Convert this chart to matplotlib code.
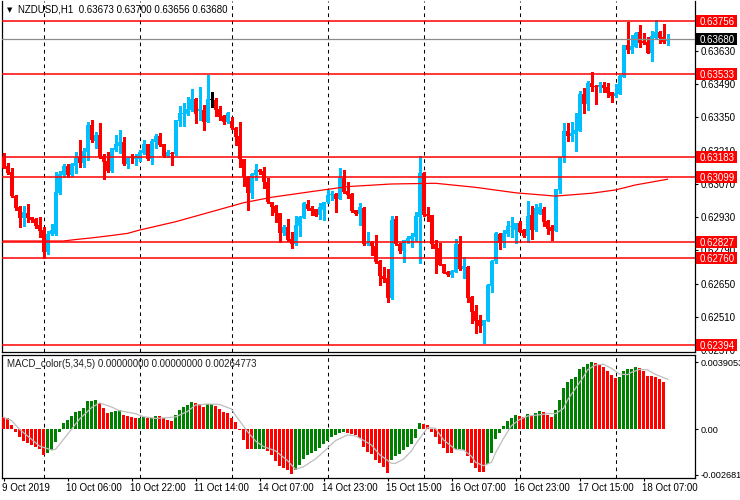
import matplotlib
matplotlib.use("Agg")
import matplotlib.pyplot as plt
import matplotlib.transforms as mtransforms
from matplotlib.patches import Rectangle
import numpy as np

plt.rcParams['font.family'] = ['Liberation Sans', 'DejaVu Sans']

# ---------------- data ----------------
symbol_title = "NZDUSD,H1  0.63673 0.63700 0.63656 0.63680"
macd_title = "MACD_color(5,34,5) 0.00000000 0.00000000 0.00264773"

opens = [0.63185, 0.63146, 0.63120, 0.63019, 0.62973, 0.62926, 0.62949, 0.62931, 0.62923, 0.62897,
         0.62876, 0.62785, 0.62858, 0.62860, 0.63031, 0.63107, 0.63146, 0.63107, 0.63146, 0.63185,
         0.63160, 0.63206, 0.63318, 0.63252, 0.63276, 0.63188, 0.63167, 0.63125, 0.63215, 0.63232,
         0.63247, 0.63154, 0.63183, 0.63174, 0.63175, 0.63201, 0.63238, 0.63175, 0.63246, 0.63272,
         0.63238, 0.63189, 0.63202, 0.63195, 0.63335, 0.63365, 0.63364, 0.63381, 0.63428, 0.63377,
         0.63382, 0.63332, 0.63424, 0.63424, 0.63386, 0.63356, 0.63332, 0.63335, 0.63307, 0.63272,
         0.63174, 0.63101, 0.63031, 0.63107, 0.63128, 0.63125, 0.63077, 0.62993, 0.62977, 0.62946,
         0.62862, 0.62890, 0.62838, 0.62817, 0.62894, 0.62928, 0.62985, 0.62968, 0.62964, 0.62939,
         0.62960, 0.62993, 0.63024, 0.63027, 0.63007, 0.63094, 0.63041, 0.63027, 0.62960, 0.62944,
         0.62970, 0.62816, 0.62826, 0.62810, 0.62746, 0.62683, 0.62673, 0.62589, 0.62923, 0.62817,
         0.62788, 0.62829, 0.62838, 0.62848, 0.62932, 0.63117, 0.62944, 0.62939, 0.62817, 0.62799,
         0.62733, 0.62701, 0.62687, 0.62701, 0.62817, 0.62711, 0.62722, 0.62595, 0.62535, 0.62497,
         0.62472, 0.62494, 0.62640, 0.62746, 0.62859, 0.62823, 0.62859, 0.62887, 0.62876, 0.62907,
         0.62876, 0.62851, 0.62939, 0.62876, 0.62944, 0.62964, 0.62915, 0.62890, 0.62873, 0.63045,
         0.63183, 0.63294, 0.63272, 0.63280, 0.63294, 0.63449, 0.63406, 0.63497, 0.63483, 0.63477,
         0.63487, 0.63480, 0.63457, 0.63441, 0.63449, 0.63522, 0.63655, 0.63634, 0.63648, 0.63711,
         0.63672, 0.63669, 0.63623, 0.63683, 0.63711, 0.63690, 0.63673]
highs = [0.63201, 0.63158, 0.63137, 0.63022, 0.62977, 0.62977, 0.62987, 0.62933, 0.62925, 0.62931,
         0.62890, 0.62872, 0.62900, 0.63119, 0.63125, 0.63153, 0.63153, 0.63160, 0.63206, 0.63255,
         0.63220, 0.63330, 0.63339, 0.63288, 0.63326, 0.63195, 0.63206, 0.63223, 0.63276, 0.63297,
         0.63267, 0.63183, 0.63195, 0.63196, 0.63215, 0.63255, 0.63240, 0.63259, 0.63279, 0.63286,
         0.63240, 0.63213, 0.63206, 0.63341, 0.63400, 0.63410, 0.63438, 0.63470, 0.63431, 0.63478,
         0.63403, 0.63529, 0.63456, 0.63431, 0.63400, 0.63360, 0.63372, 0.63353, 0.63310, 0.63330,
         0.63176, 0.63105, 0.63115, 0.63153, 0.63132, 0.63140, 0.63097, 0.62996, 0.62980, 0.62948,
         0.62897, 0.62923, 0.62867, 0.62937, 0.62935, 0.62994, 0.63003, 0.62979, 0.62966, 0.62989,
         0.62995, 0.63045, 0.63041, 0.63030, 0.63139, 0.63129, 0.63080, 0.63030, 0.62962, 0.62990,
         0.62972, 0.62867, 0.62830, 0.62855, 0.62748, 0.62722, 0.62712, 0.62937, 0.62937, 0.62820,
         0.62836, 0.62851, 0.62862, 0.62953, 0.63188, 0.63122, 0.62974, 0.62941, 0.62834, 0.62820,
         0.62735, 0.62703, 0.62707, 0.62837, 0.62851, 0.62761, 0.62724, 0.62597, 0.62561, 0.62518,
         0.62499, 0.62647, 0.62748, 0.62867, 0.62865, 0.62876, 0.62915, 0.62930, 0.62906, 0.62915,
         0.62880, 0.62999, 0.62977, 0.62986, 0.62990, 0.62974, 0.62918, 0.62897, 0.63051, 0.63185,
         0.63326, 0.63326, 0.63332, 0.63370, 0.63463, 0.63473, 0.63505, 0.63543, 0.63485, 0.63501,
         0.63501, 0.63494, 0.63459, 0.63491, 0.63528, 0.63657, 0.63753, 0.63697, 0.63711, 0.63739,
         0.63704, 0.63690, 0.63716, 0.63761, 0.63713, 0.63744, 0.63700]
lows = [0.63138, 0.63112, 0.63015, 0.62960, 0.62890, 0.62894, 0.62911, 0.62911, 0.62883, 0.62848,
        0.62760, 0.62775, 0.62856, 0.62855, 0.63027, 0.63101, 0.63100, 0.63105, 0.63118, 0.63143,
        0.63143, 0.63171, 0.63246, 0.63223, 0.63180, 0.63090, 0.63119, 0.63119, 0.63209, 0.63199,
        0.63152, 0.63136, 0.63157, 0.63150, 0.63165, 0.63195, 0.63171, 0.63153, 0.63220, 0.63232,
        0.63185, 0.63185, 0.63150, 0.63193, 0.63314, 0.63314, 0.63361, 0.63377, 0.63326, 0.63340,
        0.63297, 0.63330, 0.63395, 0.63358, 0.63340, 0.63321, 0.63328, 0.63303, 0.63234, 0.63140,
        0.63063, 0.62960, 0.63010, 0.63087, 0.63112, 0.63054, 0.62990, 0.62939, 0.62909, 0.62827,
        0.62855, 0.62832, 0.62799, 0.62815, 0.62852, 0.62927, 0.62962, 0.62939, 0.62935, 0.62923,
        0.62918, 0.62990, 0.63003, 0.62953, 0.63005, 0.63033, 0.63010, 0.62953, 0.62940, 0.62897,
        0.62813, 0.62813, 0.62771, 0.62738, 0.62645, 0.62656, 0.62574, 0.62585, 0.62813, 0.62778,
        0.62743, 0.62820, 0.62806, 0.62831, 0.62739, 0.62937, 0.62915, 0.62799, 0.62697, 0.62727,
        0.62695, 0.62684, 0.62680, 0.62699, 0.62709, 0.62676, 0.62574, 0.62486, 0.62441, 0.62448,
        0.62399, 0.62493, 0.62617, 0.62736, 0.62795, 0.62806, 0.62851, 0.62846, 0.62823, 0.62867,
        0.62846, 0.62827, 0.62837, 0.62874, 0.62942, 0.62893, 0.62859, 0.62834, 0.62871, 0.63033,
        0.63164, 0.63252, 0.63252, 0.63210, 0.63292, 0.63368, 0.63382, 0.63463, 0.63407, 0.63459,
        0.63459, 0.63438, 0.63417, 0.63438, 0.63447, 0.63520, 0.63623, 0.63623, 0.63646, 0.63648,
        0.63659, 0.63620, 0.63589, 0.63681, 0.63662, 0.63665, 0.63656]
closes = [0.63139, 0.63117, 0.63019, 0.62970, 0.62926, 0.62953, 0.62928, 0.62918, 0.62894, 0.62873,
          0.62785, 0.62858, 0.62876, 0.63035, 0.63112, 0.63147, 0.63107, 0.63153, 0.63181, 0.63160,
          0.63210, 0.63318, 0.63255, 0.63276, 0.63182, 0.63164, 0.63125, 0.63220, 0.63237, 0.63248,
          0.63154, 0.63181, 0.63178, 0.63188, 0.63205, 0.63238, 0.63175, 0.63251, 0.63272, 0.63234,
          0.63189, 0.63203, 0.63196, 0.63339, 0.63368, 0.63369, 0.63386, 0.63428, 0.63364, 0.63386,
          0.63332, 0.63428, 0.63424, 0.63382, 0.63354, 0.63330, 0.63368, 0.63305, 0.63269, 0.63174,
          0.63101, 0.63031, 0.63112, 0.63128, 0.63119, 0.63077, 0.62993, 0.62975, 0.62946, 0.62862,
          0.62890, 0.62834, 0.62817, 0.62897, 0.62932, 0.62989, 0.62965, 0.62958, 0.62937, 0.62974,
          0.62993, 0.63024, 0.63027, 0.63007, 0.63094, 0.63035, 0.63022, 0.62956, 0.62942, 0.62974,
          0.62816, 0.62823, 0.62810, 0.62740, 0.62683, 0.62670, 0.62591, 0.62918, 0.62816, 0.62788,
          0.62834, 0.62841, 0.62851, 0.62935, 0.63117, 0.62939, 0.62937, 0.62817, 0.62796, 0.62729,
          0.62697, 0.62687, 0.62705, 0.62817, 0.62711, 0.62724, 0.62591, 0.62532, 0.62494, 0.62472,
          0.62497, 0.62645, 0.62746, 0.62865, 0.62823, 0.62865, 0.62893, 0.62893, 0.62904, 0.62869,
          0.62851, 0.62935, 0.62876, 0.62968, 0.62972, 0.62911, 0.62880, 0.62873, 0.63049, 0.63183,
          0.63294, 0.63272, 0.63284, 0.63297, 0.63449, 0.63406, 0.63497, 0.63480, 0.63477, 0.63487,
          0.63476, 0.63454, 0.63441, 0.63452, 0.63526, 0.63655, 0.63634, 0.63651, 0.63707, 0.63665,
          0.63662, 0.63623, 0.63693, 0.63711, 0.63683, 0.63669, 0.63680]

# moving average, read at sampled bars
ma_bars = [0, 15, 18, 22, 26, 31, 34, 43, 53, 60, 67, 77, 86, 97, 108, 118, 128, 138, 147, 153, 158, 166]
ma_vals = [0.62830, 0.62830, 0.62836, 0.62843, 0.62851, 0.62862, 0.62876, 0.62911, 0.62958, 0.62991,
           0.63014, 0.63038, 0.63059, 0.63070, 0.63073, 0.63056, 0.63033, 0.63019, 0.63031, 0.63045,
           0.63066, 0.63090]

level_lines = [0.63756, 0.63533, 0.63183, 0.63099, 0.62827, 0.62760, 0.62394]
current_price = 0.63680
price_ticks = [0.63630, 0.63490, 0.63350, 0.63210, 0.63070, 0.62930, 0.62790, 0.62650, 0.62510, 0.62370]

macd_hist = [0.00068, 0.00066, 0.00023, -0.00016, -0.00049, -0.00070, -0.00084, -0.00094, -0.00103, -0.00117,
             -0.00152, -0.00143, -0.00123, -0.00074, -0.00016, 0.00033, 0.00053, 0.00076, 0.00101, 0.00105,
             0.00121, 0.00164, 0.00166, 0.00170, 0.00150, 0.00121, 0.00092, 0.00101, 0.00107, 0.00111,
             0.00082, 0.00078, 0.00068, 0.00062, 0.00066, 0.00068, 0.00062, 0.00066, 0.00078, 0.00074,
             0.00062, 0.00055, 0.00049, 0.00082, 0.00111, 0.00127, 0.00141, 0.00156, 0.00150, 0.00144,
             0.00131, 0.00146, 0.00147, 0.00135, 0.00118, 0.00101, 0.00092, 0.00066, 0.00043, -0.00005,
             -0.00064, -0.00119, -0.00120, -0.00118, -0.00117, -0.00116, -0.00129, -0.00152, -0.00187, -0.00215,
             -0.00228, -0.00238, -0.00263, -0.00240, -0.00211, -0.00178, -0.00152, -0.00139, -0.00127, -0.00113,
             -0.00090, -0.00070, -0.00049, -0.00035, -0.00025, -0.00016, -0.00025, -0.00027, -0.00037, -0.00051,
             -0.00103, -0.00133, -0.00148, -0.00182, -0.00201, -0.00224, -0.00260, -0.00182, -0.00156, -0.00144,
             -0.00123, -0.00103, -0.00090, -0.00051, 0.00035, 0.00029, 0.00023, -0.00016, -0.00045, -0.00088,
             -0.00113, -0.00142, -0.00143, -0.00119, -0.00120, -0.00121, -0.00156, -0.00197, -0.00226, -0.00250,
             -0.00250, -0.00205, -0.00139, -0.00061, -0.00021, 0.00020, 0.00047, 0.00066, 0.00082, 0.00076,
             0.00068, 0.00088, 0.00078, 0.00094, 0.00105, 0.00100, 0.00084, 0.00070, 0.00111, 0.00170,
             0.00242, 0.00277, 0.00291, 0.00305, 0.00351, 0.00363, 0.00383, 0.00390, 0.00386, 0.00375,
             0.00363, 0.00340, 0.00316, 0.00301, 0.00302, 0.00340, 0.00351, 0.00352, 0.00363, 0.00357,
             0.00340, 0.00310, 0.00309, 0.00305, 0.00293, 0.00275]
macd_colors = ("rrrrrrrrrr" "rggggggggg" "ggggrrrggg" "rrrrggrggr" "rrrgggggrr"
               "rggrrrrrrr" "rrrgggrrrr" "rrrggggggg" "ggggggrrrr" "rrrrrrrggg"
               "gggggrrrrr" "rrrgggrrrr" "rggggggggr" "rgrggrrrgg" "ggggggggrr"
               "rrrrgggggr" "rrrrrr")

signal_bars = [0, 2, 4, 7, 9, 12, 13, 14, 17, 19, 22, 24, 27, 29, 33, 35, 38, 41, 43, 46, 48, 51, 54, 57,
               58, 61, 63, 65, 68, 71, 73, 75, 78, 80, 82, 83, 86, 88, 91, 92, 94, 97, 98, 100, 102, 103,
               105, 106, 108, 110, 113, 115, 117, 118, 120, 122, 123, 125, 127, 129, 131, 134, 136, 138,
               140, 141, 143, 145, 146, 148, 150, 152, 154, 156, 157, 159, 161, 163, 166]
signal_vals = [0.00068, 0.00050, -0.00002, -0.00060, -0.00100, -0.00123, -0.00119, -0.00090, -0.00002,
               0.00058, 0.00125, 0.00153, 0.00129, 0.00107, 0.00090, 0.00072, 0.00062, 0.00066, 0.00071,
               0.00103, 0.00140, 0.00146, 0.00144, 0.00117, 0.00080, -0.00015, -0.00070, -0.00103,
               -0.00128, -0.00185, -0.00236, -0.00221, -0.00175, -0.00135, -0.00090, -0.00068, -0.00035,
               -0.00040, -0.00080, -0.00094, -0.00150, -0.00201, -0.00201, -0.00176, -0.00128, -0.00090,
               -0.00025, 0.00008, 0.00004, -0.00064, -0.00120, -0.00123, -0.00160, -0.00195, -0.00215,
               -0.00195, -0.00140, -0.00055, 0.00020, 0.00055, 0.00076, 0.00083, 0.00090, 0.00090,
               0.00120, 0.00170, 0.00238, 0.00305, 0.00346, 0.00375, 0.00379, 0.00355, 0.00322, 0.00318,
               0.00332, 0.00349, 0.00346, 0.00320, 0.00291]
macd_ticks = [0.0039053, 0.0, -0.002681]
macd_tick_labels = ["0.0039053", "0.00", "-0.002681"]

day_start_bars = [10, 34, 57, 81, 105, 129, 153]
time_tick_bars = [0, 16, 32, 48, 64, 80, 96, 112, 128, 144, 160]
time_tick_labels = ["9 Oct 2019", "10 Oct 06:00", "10 Oct 22:00", "11 Oct 14:00", "14 Oct 07:00",
                    "14 Oct 23:00", "15 Oct 15:00", "16 Oct 07:00", "16 Oct 23:00", "17 Oct 15:00",
                    "18 Oct 07:00"]

# ---------------- layout ----------------
W, H = 740, 500
fig = plt.figure(figsize=(7.4, 5.0), dpi=100)
fig.patch.set_facecolor("white")


def axrect(l, t, r, b):
    return [l / W, 1 - b / H, (r - l) / W, (b - t) / H]


ax = fig.add_axes(axrect(2, 1, 695, 352))
ax2 = fig.add_axes(axrect(2, 355, 695, 478), sharex=ax)

BLUE = "#00BFFF"
RED = "#FF0000"
GREEN = "#008000"
FS = 7
BW = 0.75

o = np.array(opens); h = np.array(highs); l = np.array(lows); c = np.array(closes)
xs = np.arange(len(o))
cols = np.where(c > o, BLUE, np.where(c < o, RED, "#000000"))
bottom = np.minimum(o, c)
height = np.maximum(np.abs(c - o), 0.00003)

ax.vlines(xs, l, h, colors=cols, linewidth=0.8, antialiased=False, zorder=3)
ax.bar(xs, height, bottom=bottom, width=BW, color=cols, linewidth=0, antialiased=False, zorder=4)

for lv in level_lines:
    ax.axhline(lv, color=RED, linewidth=1.1, zorder=5)
ax.axhline(current_price, color="#8C8C8C", linewidth=0.9, zorder=5)
ax.plot(ma_bars, ma_vals, color=RED, linewidth=0.9, zorder=6)

ymin, ymax = 0.623626, 0.638405
ax.set_ylim(ymin, ymax)
ax.set_xlim(-0.375, 172.875)

# MACD
mh = np.array(macd_hist)
mx = np.arange(len(mh))
mcols = [GREEN if ch == "g" else RED for ch in macd_colors]
ax2.bar(mx, mh, width=BW, color=mcols, linewidth=0, antialiased=False, zorder=3)
ax2.plot(signal_bars, signal_vals, color="#BEBEBE", linewidth=0.9, zorder=4)
m_ymin, m_ymax = -0.002869, 0.004333
ax2.set_ylim(m_ymin, m_ymax)

for a in (ax, ax2):
    for d in day_start_bars:
        a.axvline(d, color="black", linewidth=0.75, linestyle=(0, (3.5, 3.5)), zorder=2)
    for s in a.spines.values():
        s.set_color("black")
        s.set_linewidth(0.9)
    a.yaxis.tick_right()
    a.tick_params(axis="y", which="both", left=False, right=True, labelleft=False, labelright=True,
                  length=2.2, width=0.8, pad=1.5, labelsize=FS, colors="black")
ax.spines["top"].set_visible(False)
ax2.tick_params(axis="y", labelsize=6.6)

ax.set_yticks(price_ticks)
ax.set_yticklabels(["%.5f" % t for t in price_ticks])
ax.tick_params(axis="x", bottom=False, labelbottom=False)

ax2.set_yticks(macd_ticks)
ax2.set_yticklabels(macd_tick_labels)
ax2.set_xticks(time_tick_bars)
ax2.tick_params(axis="x", length=2.5, width=0.8, labelbottom=False, direction="out")

# price boxes on the right axis
trans = mtransforms.blended_transform_factory(ax.transAxes, ax.transData)
px_per_data = 351 / (ymax - ymin)
box_h = 12 / px_per_data


def price_box(val, fc):
    ax.add_patch(Rectangle(((696 - 2) / 693, val - box_h / 2), 41 / 693, box_h, transform=trans,
                           facecolor=fc, edgecolor="none", clip_on=False, zorder=10))
    ax.text((700 - 2) / 693, val, "%.5f" % val, transform=trans, color="white", fontsize=FS,
            va="center_baseline", ha="left", clip_on=False, zorder=11)


for lv in level_lines:
    price_box(lv, RED)
price_box(current_price, "black")

# time labels
tb = mtransforms.blended_transform_factory(ax2.transData, ax2.transAxes)
for b, lab in zip(time_tick_bars, time_tick_labels):
    ax2.annotate(lab, xy=(b, 0), xycoords=tb, xytext=(-1, -10), textcoords="offset pixels",
                 ha="left", va="center", fontsize=FS, color="black", annotation_clip=False)

# titles
fig.text(6.5 / W, 1 - 10 / H, "\u25BC", fontsize=5, family="DejaVu Sans", va="center", ha="left")
fig.text(18 / W, 1 - 10 / H, symbol_title, fontsize=FS, va="center", ha="left", color="black")
fig.text(7 / W, 1 - 364 / H, macd_title, fontsize=FS, va="center", ha="left", color="#202020")

fig.savefig("out.png", dpi=100)
